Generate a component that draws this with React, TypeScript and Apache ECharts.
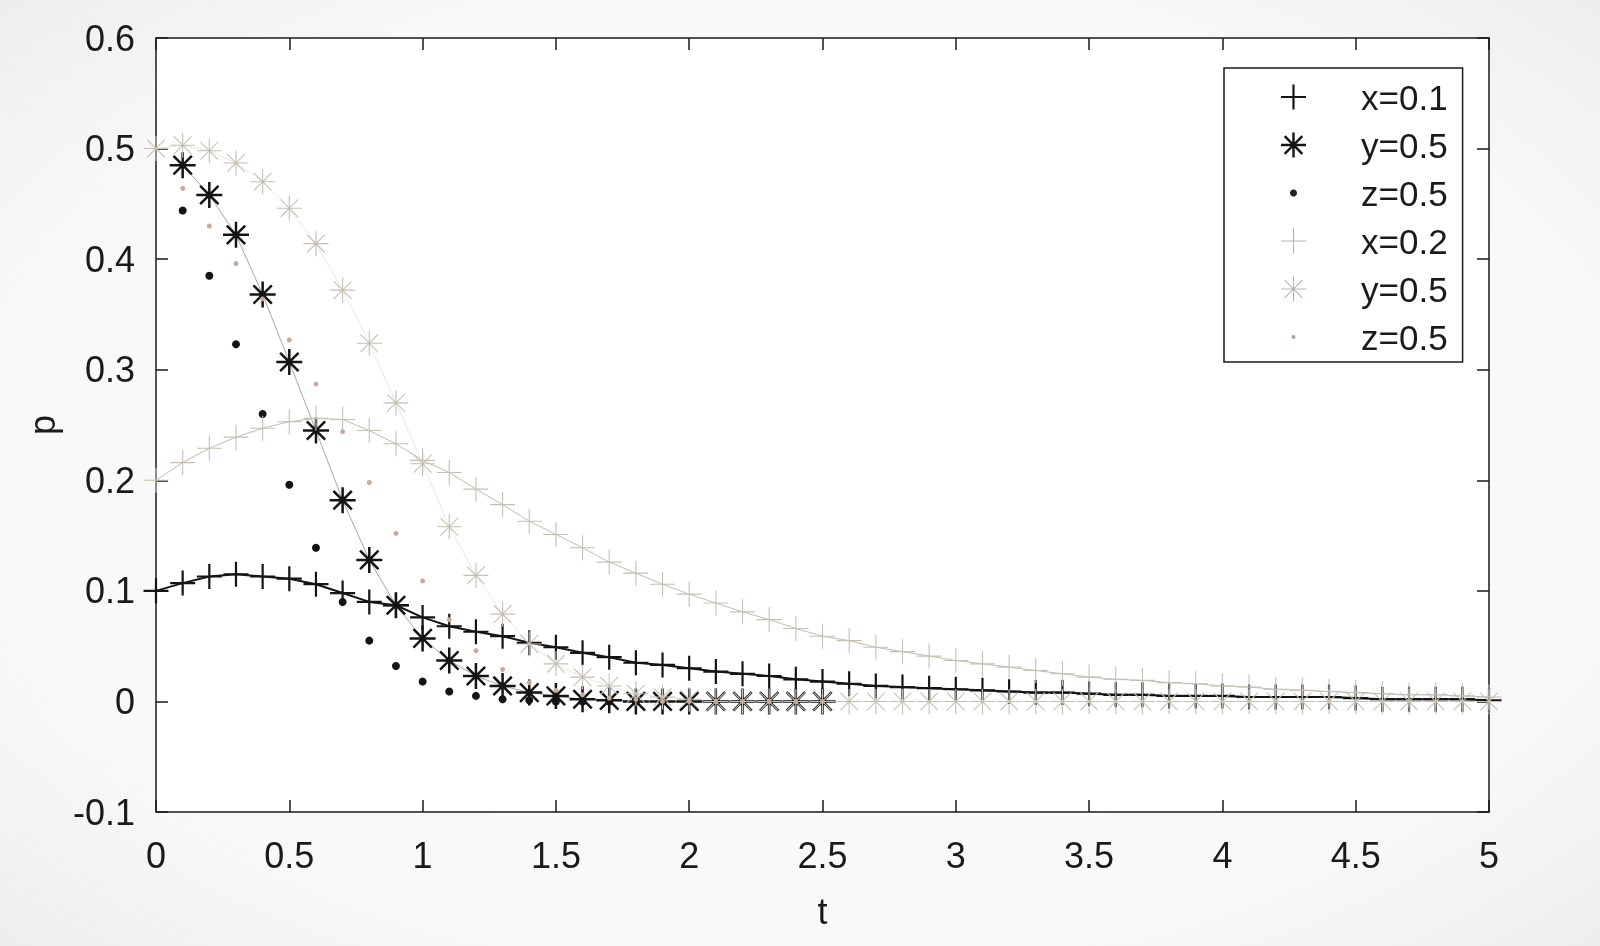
import React, { useEffect, useRef } from "react";
import * as echarts from "echarts";

// time samples
const T = [
  0, 0.1, 0.2, 0.3, 0.4, 0.5, 0.6, 0.7, 0.8, 0.9,
  1.0, 1.1, 1.2, 1.3, 1.4, 1.5, 1.6, 1.7, 1.8, 1.9,
  2.0, 2.1, 2.2, 2.3, 2.4, 2.5, 2.6, 2.7, 2.8, 2.9,
  3.0, 3.1, 3.2, 3.3, 3.4, 3.5, 3.6, 3.7, 3.8, 3.9,
  4.0, 4.1, 4.2, 4.3, 4.4, 4.5, 4.6, 4.7, 4.8, 4.9,
  5.0,
];

// black "+" : x=0.1
const X01 = [
  0.100, 0.107, 0.113, 0.115, 0.113, 0.111, 0.106, 0.098, 0.090, 0.087,
  0.076, 0.068, 0.063, 0.059, 0.053, 0.049, 0.044, 0.040, 0.035, 0.033,
  0.030, 0.027, 0.025, 0.023, 0.020, 0.018, 0.016, 0.014, 0.013, 0.012,
  0.011, 0.010, 0.009, 0.008, 0.008, 0.007, 0.006, 0.006, 0.005, 0.005,
  0.005, 0.004, 0.004, 0.004, 0.004, 0.003, 0.002, 0.002, 0.002, 0.002,
  0.001,
];

// black "*" : y=0.5 (stops at t=2.5)
const Y05A = [
  null, 0.485, 0.458, 0.422, 0.368, 0.307, 0.245, 0.182, 0.128, 0.087,
  0.057, 0.037, 0.023, 0.014, 0.008, 0.005, 0.002, 0.001, 0.0, 0.0,
  0.0, 0.0, 0.0, 0.0, 0.0, 0.0,
];

// black dot : z=0.5 (stops at t=2.5)
const Z05A = [
  null, 0.444, 0.385, 0.323, 0.260, 0.196, 0.139, 0.090, 0.055, 0.032,
  0.018, 0.009, 0.005, 0.002, 0.001, 0.0, 0.0, 0.0, 0.0, 0.0,
  0.0, 0.0, 0.0, 0.0, 0.0, 0.0,
];

// light "+" : x=0.2
const X02 = [
  0.200, 0.216, 0.229, 0.239, 0.247, 0.253, 0.256, 0.255, 0.245, 0.233,
  0.218, 0.207, 0.192, 0.178, 0.163, 0.151, 0.139, 0.126, 0.116, 0.106,
  0.097, 0.089, 0.081, 0.074, 0.066, 0.059, 0.055, 0.049, 0.045, 0.041,
  0.037, 0.034, 0.031, 0.028, 0.025, 0.022, 0.020, 0.019, 0.017, 0.016,
  0.014, 0.013, 0.011, 0.010, 0.009, 0.008, 0.007, 0.006, 0.006, 0.005,
  0.004,
];

// light "*" : y=0.5
const Y05B = [
  0.500, 0.503, 0.498, 0.487, 0.470, 0.446, 0.414, 0.372, 0.324, 0.270,
  0.215, 0.158, 0.114, 0.079, 0.052, 0.034, 0.022, 0.014, 0.007, 0.004,
  0.002, 0.0, 0.0, 0.0, 0.0, 0.0, 0.0, 0.0, 0.0, 0.0,
  0.0, 0.0, 0.0, 0.0, 0.0, 0.0, 0.0, 0.0, 0.0, 0.0,
  0.0, 0.0, 0.0, 0.0, 0.0, 0.0, 0.0, 0.0, 0.0, 0.0,
  0.0,
];

// light dot : z=0.5
const Z05B = [
  null, 0.464, 0.430, 0.396, 0.364, 0.327, 0.287, 0.244, 0.198, 0.152,
  0.109, 0.074, 0.046, 0.029, 0.017, 0.010, 0.006, 0.003, 0.002, 0.0,
  0.0, 0.0, 0.0, 0.0, 0.0, 0.0,
];

const LEGEND_LABELS = ["x=0.1", "y=0.5", "z=0.5", "x=0.2", "y=0.5", "z=0.5"];
const SERIES_KEYS = ["s1", "s2", "s3", "s4", "s5", "s6"];

const X_TICKS = { min: 0, max: 5, interval: 0.5 };
const Y_TICKS = { min: -0.1, max: 0.6, interval: 0.1 };

const FONT = "'Liberation Sans', Arial, Helvetica, sans-serif";
const BLACK = "#141414";
const LIGHT = "#c6bfb4";
const LIGHT_DOT = "#c9a99c";

function bar(angleDeg: number, halfLen: number, halfW: number) {
  const a = (angleDeg * Math.PI) / 180;
  const dx = Math.cos(a), dy = Math.sin(a);
  const nx = -dy, ny = dx;
  const c = 50;
  const pts = [
    [c + halfLen * dx + halfW * nx, c + halfLen * dy + halfW * ny],
    [c + halfLen * dx - halfW * nx, c + halfLen * dy - halfW * ny],
    [c - halfLen * dx - halfW * nx, c - halfLen * dy - halfW * ny],
    [c - halfLen * dx + halfW * nx, c - halfLen * dy + halfW * ny],
  ];
  return "M" + pts.map((p) => p[0].toFixed(2) + "," + p[1].toFixed(2)).join(" L") + " Z";
}
const plusPath = (w: number) => "path://" + [bar(0, 50, w), bar(90, 50, w)].join(" ");
const starPath = (w: number) => "path://" + [0, 45, 90, 135].map((a) => bar(a, 50, w)).join(" ");
function dotIcon(r: number) {
  const n = 24;
  const pts: string[] = [];
  for (let i = 0; i < n; i++) {
    const a = (i / n) * Math.PI * 2;
    pts.push((50 + r * Math.cos(a)).toFixed(2) + "," + (50 + r * Math.sin(a)).toFixed(2));
  }
  return (
    "path://M0,0 L0.2,0 L0,0.2 Z M100,100 L99.8,100 L100,99.8 Z M" + pts.join(" L") + " Z"
  );
}

export default function App() {
  const ref = useRef<HTMLDivElement>(null);
  useEffect(() => {
    if (!ref.current) return;
    const chart = echarts.init(ref.current, undefined, { renderer: "svg" });

    const toPairs = (vals: (number | null)[]) =>
      vals.map((v, i) => [T[i], v]).filter((p) => p[1] !== null);

    const defs = [
      { vals: X01, symbol: plusPath(4.4), size: 25, color: BLACK, line: 2, lineColor: BLACK, icon: plusPath(4.4) },
      { vals: Y05A, symbol: starPath(4.8), size: 26, color: BLACK, line: 0.6, lineColor: "#6a6a6a", icon: starPath(4.8) },
      { vals: Z05A, symbol: "circle", size: 8, color: BLACK, line: 0, lineColor: BLACK, icon: dotIcon(14) },
      { vals: X02, symbol: plusPath(2.2), size: 25, color: LIGHT, line: 1, lineColor: "#c2bbb0", icon: plusPath(2.2) },
      { vals: Y05B, symbol: starPath(2.2), size: 25, color: LIGHT, line: 0.6, lineColor: "#ddd8d0", icon: starPath(2.2) },
      { vals: Z05B, symbol: "circle", size: 5, color: LIGHT_DOT, line: 0, lineColor: LIGHT_DOT, icon: dotIcon(8) },
    ];
    const legendColors = [BLACK, BLACK, "#222", "#b9b4ae", "#b9b4ae", "#b5a4a4"];

    const series = defs.map((d, i) => ({
      type: "line",
      name: SERIES_KEYS[i],
      data: toPairs(d.vals),
      symbol: d.symbol,
      symbolSize: d.size,
      showSymbol: true,
      showAllSymbol: true,
      clip: false,
      silent: true,
      itemStyle: { color: d.color, borderWidth: 0 },
      lineStyle: { color: d.lineColor, width: d.line > 0 ? d.line : 0, opacity: d.line > 0 ? 1 : 0 },
      emphasis: { disabled: true },
    }));

    const axisLine = { show: true, onZero: false, lineStyle: { color: "#1a1a1a", width: 1.5 } };
    const tick = { show: true, inside: true, length: 12, lineStyle: { color: "#1a1a1a", width: 1.5 } };
    const label = { fontSize: 36, color: "#1a1a1a", fontFamily: FONT };

    chart.setOption({
      animation: false,
      backgroundColor: new echarts.graphic.RadialGradient(0.5, 0.5, 0.75, [
        { offset: 0, color: "#fefefe" },
        { offset: 0.7, color: "#f8f8f8" },
        { offset: 1, color: "#ebebeb" },
      ]),
      textStyle: { fontFamily: FONT },
      grid: {
        left: 156,
        right: 111,
        top: 38,
        bottom: 134,
        show: true,
        backgroundColor: "#ffffff",
        borderWidth: 0,
      },
      xAxis: [
        {
          type: "value",
          position: "bottom",
          ...X_TICKS,
          axisLine,
          axisTick: tick,
          splitLine: { show: false },
          axisLabel: { ...label, margin: 25 },
          name: "t",
          nameLocation: "middle",
          nameGap: 81,
          nameTextStyle: { ...label },
        },
        {
          type: "value",
          position: "top",
          ...X_TICKS,
          axisLine,
          axisTick: tick,
          splitLine: { show: false },
          axisLabel: { show: false },
        },
      ],
      yAxis: [
        {
          type: "value",
          position: "left",
          ...Y_TICKS,
          axisLine,
          axisTick: tick,
          splitLine: { show: false },
          axisLabel: {
            ...label,
            margin: 21,
            formatter: (v: number) => (Math.abs(v) < 1e-9 ? "0" : v.toFixed(1)),
          },
          name: "p",
          nameLocation: "middle",
          nameGap: 96,
          nameRotate: 90,
          nameTextStyle: { ...label },
        },
        {
          type: "value",
          position: "right",
          ...Y_TICKS,
          axisLine,
          axisTick: tick,
          splitLine: { show: false },
          axisLabel: { show: false },
        },
      ],
      legend: {
        left: 1224,
        top: 68,
        orient: "vertical",
        selectedMode: false,
        itemWidth: 25,
        itemHeight: 25,
        itemGap: 12,
        padding: [11, 15, 7, 57],
        borderColor: "#1a1a1a",
        borderWidth: 1.5,
        backgroundColor: "#ffffff",
        textStyle: {
          fontSize: 35,
          lineHeight: 36,
          color: "#1a1a1a",
          fontFamily: FONT,
          padding: [0, 0, 0, 50],
        },
        formatter: (name: string) => LEGEND_LABELS[SERIES_KEYS.indexOf(name)],
        data: SERIES_KEYS.map((k, i) => ({
          name: k,
          icon: defs[i].icon,
          itemStyle: { color: legendColors[i], borderWidth: 0 },
        })),
      },
      series,
    });

    return () => chart.dispose();
  }, []);

  return (
    <div
      ref={ref}
      style={{ position: "fixed", left: 0, top: 0, width: 1600, height: 946 }}
    />
  );
}
